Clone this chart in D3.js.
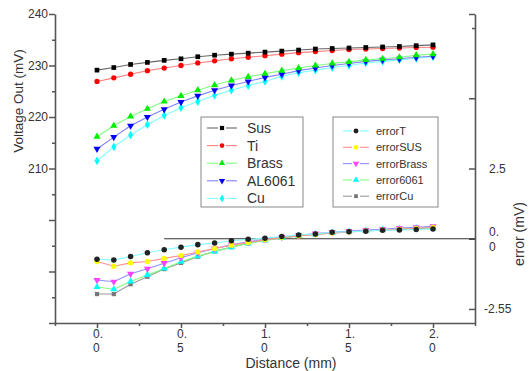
<!DOCTYPE html>
<html>
<head>
<meta charset="utf-8">
<script src="https://cdn.jsdelivr.net/npm/d3@7"></script>
<style>
  body { margin: 0; background: #fff; }
  text { font-family: "Liberation Sans", Arial, sans-serif; fill: #333; }
</style>
</head>
<body>
<div id="main"></div>
<script>
// Layout parameters
var svgWidth = 530;
var svgHeight = 371;
var plot = { l: 55, r: 475, t: 14, b: 323 };

// data
var distance = [0.0, 0.1, 0.2, 0.3, 0.4, 0.5, 0.6, 0.7, 0.8, 0.9, 1.0,
  1.1, 1.2, 1.3, 1.4, 1.5, 1.6, 1.7, 1.8, 1.9, 2.0];

var voltNames = ['Sus', 'Ti', 'Brass', 'AL6061', 'Cu'];
var sus = [229.1, 229.6, 230.2, 230.6, 231.0, 231.3, 231.7, 232.0, 232.2, 232.4, 232.6,
  232.8, 233.0, 233.2, 233.3, 233.4, 233.5, 233.6, 233.7, 233.85, 234.0];
var ti = [226.9, 227.6, 228.3, 229.0, 229.5, 230.0, 230.5, 230.9, 231.3, 231.6, 231.9,
  232.2, 232.5, 232.7, 232.9, 233.1, 233.2, 233.3, 233.4, 233.5, 233.55];
var brass = [216.2, 218.3, 220.1, 221.6, 223.0, 224.1, 225.2, 226.2, 227.1, 227.8, 228.4,
  229.0, 229.5, 230.0, 230.4, 230.7, 231.1, 231.3, 231.6, 232.0, 232.2];
var al6061 = [213.8, 216.1, 218.3, 220.0, 221.5, 222.9, 224.1, 225.2, 226.1, 226.9, 227.7,
  228.3, 229.0, 229.5, 230.0, 230.4, 230.8, 231.1, 231.3, 231.6, 231.8];
var cu = [211.5, 214.2, 216.5, 218.5, 220.3, 221.8, 223.0, 224.2, 225.2, 226.1, 226.9,
  227.9, 228.6, 229.1, 229.6, 230.0, 230.5, 230.8, 231.1, 231.4, 231.7];

var errNames = ['errorT', 'errorSUS', 'errorBrass', 'error6061', 'errorCu'];
var errorT = [-0.73, -0.76, -0.63, -0.50, -0.39, -0.30, -0.21, -0.15, -0.07, -0.02, 0.02,
  0.08, 0.13, 0.17, 0.23, 0.25, 0.27, 0.30, 0.31, 0.33, 0.35];
var errorSUS = [-0.81, -0.98, -0.86, -0.81, -0.70, -0.60, -0.47, -0.35, -0.23, -0.13, -0.04,
  0.04, 0.10, 0.15, 0.20, 0.24, 0.28, 0.31, 0.34, 0.37, 0.40];
var errorBrass = [-1.47, -1.53, -1.25, -1.07, -0.87, -0.68, -0.50, -0.35, -0.22, -0.11, -0.02,
  0.06, 0.12, 0.18, 0.23, 0.27, 0.31, 0.34, 0.38, 0.41, 0.44];
var error6061 = [-1.72, -1.80, -1.52, -1.29, -1.06, -0.82, -0.62, -0.45, -0.30, -0.17, -0.06,
  0.03, 0.10, 0.16, 0.21, 0.25, 0.29, 0.32, 0.35, 0.38, 0.40];
var errorCu = [-1.97, -1.97, -1.62, -1.35, -1.08, -0.86, -0.64, -0.45, -0.30, -0.16, -0.05,
  0.04, 0.10, 0.16, 0.21, 0.25, 0.28, 0.31, 0.33, 0.36, 0.38];

// tick labels (as printed, wrapped)
var xTickVals = [0, 0.5, 1.0, 1.5, 2.0];
var xTickText = [['0.', '0'], ['0.', '5'], ['1.', '0'], ['1.', '5'], ['2.', '0']];
var leftTickVals = [210, 220, 230, 240];
var rightTickVals = [2.5, 0, -2.5];
var rightTickText = [['2.5'], ['0.', '0'], ['-2.55']];

// series styles
var voltSeries = [
  { name: voltNames[0], values: sus, marker: d3.symbolSquare, size: 22, fill: '#000', line: '#666' },
  { name: voltNames[1], values: ti, marker: d3.symbolCircle, size: 22, fill: '#ff0000', line: '#ff8080' },
  { name: voltNames[2], values: brass, marker: d3.symbolTriangle, size: 22, fill: '#00ee00', line: '#80ff80' },
  { name: voltNames[3], values: al6061, marker: d3.symbolTriangle, size: 22, fill: '#0000ff', line: '#8080ff', down: true },
  { name: voltNames[4], values: cu, marker: d3.symbolDiamond, size: 22, fill: '#00ffff', line: '#80ffff' }
];
var errSeries = [
  { name: errNames[0], values: errorT, marker: d3.symbolCircle, size: 24, fill: '#222', line: '#80ffff' },
  { name: errNames[1], values: errorSUS, marker: d3.symbolCircle, size: 22, fill: '#ffff00', line: '#ff9090' },
  { name: errNames[2], values: errorBrass, marker: d3.symbolTriangle, size: 22, fill: '#ff40ff', line: '#9090ff', down: true },
  { name: errNames[3], values: error6061, marker: d3.symbolTriangle, size: 22, fill: '#00ffff', line: '#80ff80' },
  { name: errNames[4], values: errorCu, marker: d3.symbolSquare, size: 18, fill: '#777', line: '#999' }
];

var svg = d3.select('#main')
  .append('svg')
  .attr('width', svgWidth)
  .attr('height', svgHeight);

var xScale = d3.scaleLinear().domain([-0.25, 2.25]).range([plot.l, plot.r]);
var yLeft = d3.scaleLinear().domain([180, 240]).range([plot.b, plot.t]);
var yRight = d3.scaleLinear().domain([-3, 8]).range([plot.b, plot.t]);

var axisColor = '#555';

// left axis: ticks every 5, labels on 210..240
var leftAxis = svg.append('g')
  .attr('transform', 'translate(' + [plot.l, 0] + ')')
  .call(d3.axisLeft(yLeft)
    .tickValues(d3.range(180, 241, 5))
    .tickSize(0)
    .tickFormat(''));
leftAxis.select('.domain').attr('stroke', axisColor).attr('stroke-width', 1.6);
leftAxis.selectAll('.tick line')
  .attr('x2', (d) => d % 10 === 0 ? -6 : -3)
  .attr('stroke', axisColor).attr('stroke-width', 1.5);
svg.append('g').selectAll('text')
  .data(leftTickVals)
  .enter()
  .append('text')
  .attr('x', plot.l - 7)
  .attr('y', (d) => yLeft(d) + 4)
  .attr('text-anchor', 'end')
  .style('font-size', '12px')
  .text((d) => d);

// right axis: ticks point inward
var rightAxis = svg.append('g')
  .attr('transform', 'translate(' + [plot.r, 0] + ')')
  .call(d3.axisRight(yRight)
    .tickValues([8, 7.5, 5, 2.5, 0, -2.5])
    .tickSize(0)
    .tickFormat(''));
rightAxis.select('.domain').attr('stroke', axisColor).attr('stroke-width', 1.6);
rightAxis.selectAll('.tick line')
  .attr('x2', (d) => d === 7.5 ? -3 : -6)
  .attr('stroke', axisColor).attr('stroke-width', 1.5);
rightTickVals.forEach(function (v, i) {
  var lines = rightTickText[i];
  var x = plot.r + (lines[0].length > 3 ? 9 : 14);
  var t = svg.append('text')
    .attr('y', yRight(v) + (lines.length > 1 ? -3 : 4))
    .style('font-size', '12px');
  lines.forEach(function (s, j) {
    t.append('tspan')
      .attr('x', x)
      .attr('dy', j === 0 ? 0 : 15)
      .text(s);
  });
});

// bottom axis: ticks at the quarter marks, labels at the halves
var bottomAxis = svg.append('g')
  .attr('transform', 'translate(' + [0, plot.b] + ')')
  .call(d3.axisBottom(xScale)
    .tickValues([-0.25, 0, 0.25, 0.5, 0.75, 1.0, 1.25, 1.5, 1.75, 2.0, 2.25])
    .tickSize(0)
    .tickFormat(''));
bottomAxis.select('.domain').attr('stroke', axisColor).attr('stroke-width', 1.6);
bottomAxis.selectAll('.tick line')
  .attr('y2', (d) => (Math.round(d * 4) % 2 === 0) ? 5 : 3)
  .attr('stroke', axisColor).attr('stroke-width', 1.5);
xTickVals.forEach(function (v, i) {
  var t = svg.append('text')
    .attr('y', plot.b + 15)
    .style('font-size', '12px');
  xTickText[i].forEach(function (s, j) {
    t.append('tspan')
      .attr('x', xScale(v) - 4)
      .attr('dy', j === 0 ? 0 : 14)
      .text(s);
  });
});

// axis titles
svg.append('text')
  .attr('transform', 'translate(' + [23, 101] + ') rotate(-90)')
  .attr('text-anchor', 'middle')
  .style('font-size', '13.5px')
  .text('Voltage Out (mV)');

svg.append('text')
  .attr('transform', 'translate(' + [524, 234] + ') rotate(-90)')
  .attr('text-anchor', 'middle')
  .style('font-size', '14px')
  .text('error (mV)');

svg.append('text')
  .attr('x', 291)
  .attr('y', 368)
  .attr('text-anchor', 'middle')
  .style('font-size', '14px')
  .text('Distance (mm)');

// zero line for the error axis
svg.append('path')
  .attr('stroke', '#333')
  .attr('stroke-width', 1.2)
  .attr('d', d3.line()([[xScale(0.4), yRight(0)], [plot.r, yRight(0)]]));

// draw one series: line + markers
function drawSeries(s, yScale) {
  var pts = distance.map((d, i) => [xScale(d), yScale(s.values[i])]);
  svg.append('path')
    .attr('fill', 'none')
    .attr('stroke', s.line)
    .attr('stroke-width', 1.1)
    .attr('d', d3.line()(pts));
  svg.append('g').selectAll('path')
    .data(pts)
    .enter()
    .append('path')
    .attr('d', d3.symbol().type(s.marker).size(s.size))
    .attr('transform', (p) => 'translate(' + p + ')' + (s.down ? ' rotate(180)' : ''))
    .attr('fill', s.fill);
}

errSeries.slice().reverse().forEach((s) => drawSeries(s, yRight));
voltSeries.slice().reverse().forEach((s) => drawSeries(s, yLeft));

// legends
function drawLegend(series, box, rowY, rowStep, lineX, textX, fontSize) {
  svg.append('rect')
    .attr('x', box[0]).attr('y', box[1])
    .attr('width', box[2]).attr('height', box[3])
    .attr('fill', '#fff')
    .attr('stroke', '#888')
    .attr('stroke-width', 1);
  series.forEach(function (s, i) {
    var y = rowY + i * rowStep;
    var mid = (lineX[0] + lineX[1]) / 2;
    svg.append('path')
      .attr('stroke', s.line).attr('stroke-width', 1.1)
      .attr('d', d3.line()([[lineX[0], y], [mid - 4, y]]));
    svg.append('path')
      .attr('stroke', s.line).attr('stroke-width', 1.1)
      .attr('d', d3.line()([[mid + 4, y], [lineX[1], y]]));
    svg.append('path')
      .attr('d', d3.symbol().type(s.marker).size(s.size * 0.8))
      .attr('transform', 'translate(' + [mid, y] + ')' + (s.down ? ' rotate(180)' : ''))
      .attr('fill', s.fill);
    svg.append('text')
      .attr('x', textX)
      .attr('y', y + fontSize * 0.36)
      .style('font-size', fontSize + 'px')
      .text(s.name);
  });
}

drawLegend(voltSeries, [201, 117, 102, 90], 128, 17.6, [207, 237], 247, 14);
drawLegend(errSeries, [333, 117, 105, 90], 131, 16.3, [343, 369], 376, 11);
</script>
</body>
</html>
